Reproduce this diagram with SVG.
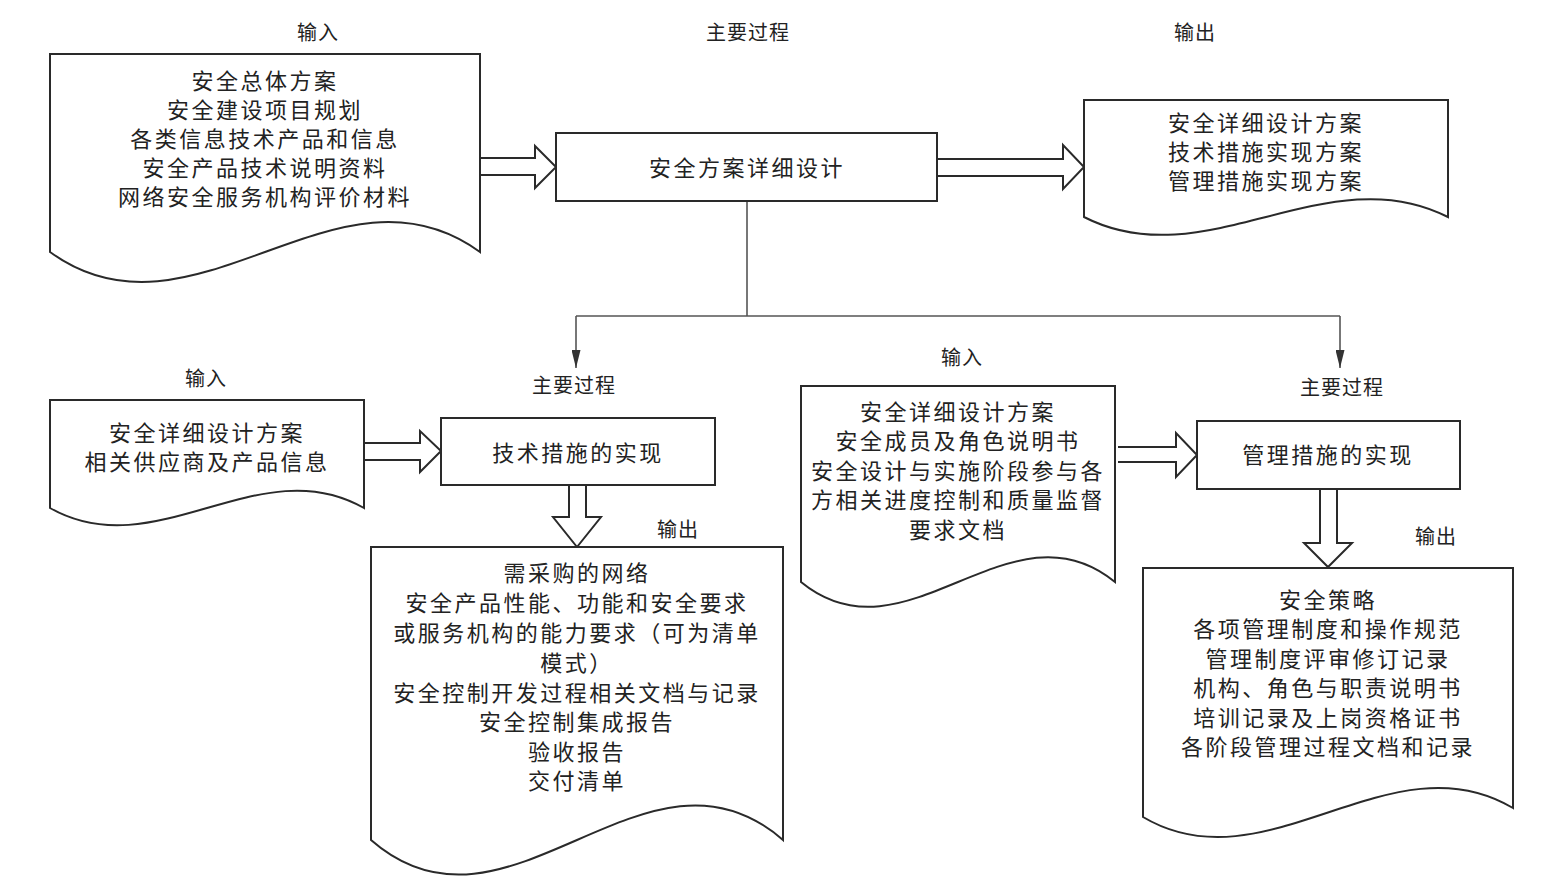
<svg xmlns="http://www.w3.org/2000/svg" width="1544" height="882" viewBox="0 0 1544 882">
<style>
.shape{fill:#fff;stroke:#2a2a2a;stroke-width:2;stroke-linejoin:miter}
.harrow{fill:#fff;stroke:#2a2a2a;stroke-width:2;stroke-linejoin:miter}
.conn{fill:none;stroke:#555;stroke-width:1.6}
.t{font-family:"Liberation Sans","Noto Sans CJK SC",sans-serif;font-size:22px;fill:#222;text-anchor:middle;dominant-baseline:central;letter-spacing:2.5px}
.lbl{font-family:"Liberation Sans","Noto Sans CJK SC",sans-serif;font-size:20px;fill:#222;text-anchor:middle;dominant-baseline:central;letter-spacing:1px}
</style>
<defs>
<marker id="ah" viewBox="0 0 20 10" refX="20" refY="5" markerWidth="18" markerHeight="9" markerUnits="userSpaceOnUse" orient="auto">
<path d="M0,0 L20,5 L0,10 Z" fill="#333"/>
</marker>
</defs>
<rect width="1544" height="882" fill="#fff"/>

<g id="labels">
<text class="lbl" x="318" y="33">输入</text>
<text class="lbl" x="748" y="33">主要过程</text>
<text class="lbl" x="1195" y="33">输出</text>
<text class="lbl" x="206" y="379">输入</text>
<text class="lbl" x="574" y="386">主要过程</text>
<text class="lbl" x="678" y="530">输出</text>
<text class="lbl" x="962" y="358">输入</text>
<text class="lbl" x="1342" y="388">主要过程</text>
<text class="lbl" x="1436" y="537">输出</text>
</g>

<g id="connectors">
<path class="harrow" d="M480,158 H535 V146 L556,167 L535,188 V175 H480"/>
<path class="harrow" d="M937,159 H1063 V145 L1084,167 L1063,189 V176 H937"/>
<path class="harrow" d="M364,443 H420 V431 L441,451 L420,472 V460 H364"/>
<path class="harrow" d="M1118,447 H1176 V433 L1197,455 L1176,477 V462 H1118"/>
<path class="harrow" d="M569,485 V517 H553 L577,547 L601,517 H586 V485"/>
<path class="harrow" d="M1320,489 V543 H1304 L1328,567 L1352,543 H1337 V489"/>
<path class="conn" d="M747,201 V316"/>
<path class="conn" d="M576,316 H1340"/>
<path class="conn" d="M576,316 V368" marker-end="url(#ah)"/>
<path class="conn" d="M1340,316 V368" marker-end="url(#ah)"/>
</g>

<g id="doc-input-1">
<path class="shape" d="M50,54 H480 V252 C337,148 193,356 50,252 Z"/>
<text class="t" x="265" y="81">安全总体方案</text>
<text class="t" x="265" y="110">安全建设项目规划</text>
<text class="t" x="265" y="139">各类信息技术产品和信息</text>
<text class="t" x="265" y="168">安全产品技术说明资料</text>
<text class="t" x="265" y="197">网络安全服务机构评价材料</text>
</g>

<g id="proc-main">
<rect class="shape" x="556" y="133" width="381" height="68"/>
<text class="t" x="747" y="168">安全方案详细设计</text>
</g>

<g id="doc-output-1">
<path class="shape" d="M1084,100 H1448 V217 C1327,155 1205,279 1084,217 Z"/>
<text class="t" x="1266" y="123">安全详细设计方案</text>
<text class="t" x="1266" y="152">技术措施实现方案</text>
<text class="t" x="1266" y="181">管理措施实现方案</text>
</g>

<g id="doc-input-2">
<path class="shape" d="M50,400 H364 V508 C259,448 155,568 50,508 Z"/>
<text class="t" x="207" y="433">安全详细设计方案</text>
<text class="t" x="207" y="462">相关供应商及产品信息</text>
</g>

<g id="proc-tech">
<rect class="shape" x="441" y="418" width="274" height="67"/>
<text class="t" x="578" y="453">技术措施的实现</text>
</g>

<g id="doc-output-2">
<path class="shape" d="M371,547 H783 V840 C646,720 508,960 371,840 Z"/>
<text class="t" x="577" y="573">需采购的网络</text>
<text class="t" x="577" y="603">安全产品性能、功能和安全要求</text>
<text class="t" x="577" y="633">或服务机构的能力要求（可为清单</text>
<text class="t" x="577" y="663">模式）</text>
<text class="t" x="577" y="693">安全控制开发过程相关文档与记录</text>
<text class="t" x="577" y="722">安全控制集成报告</text>
<text class="t" x="577" y="752">验收报告</text>
<text class="t" x="577" y="781">交付清单</text>
</g>

<g id="doc-input-3">
<path class="shape" d="M801,386 H1115 V582 C1010,496 906,668 801,582 Z"/>
<text class="t" x="958" y="412">安全详细设计方案</text>
<text class="t" x="958" y="441">安全成员及角色说明书</text>
<text class="t" x="958" y="471">安全设计与实施阶段参与各</text>
<text class="t" x="958" y="500">方相关进度控制和质量监督</text>
<text class="t" x="958" y="530">要求文档</text>
</g>

<g id="proc-mgmt">
<rect class="shape" x="1197" y="421" width="263" height="68"/>
<text class="t" x="1328" y="455">管理措施的实现</text>
</g>

<g id="doc-output-3">
<path class="shape" d="M1143,568 H1513 V808 C1390,735 1266,890 1143,817 Z"/>
<text class="t" x="1328" y="600">安全策略</text>
<text class="t" x="1328" y="629">各项管理制度和操作规范</text>
<text class="t" x="1328" y="659">管理制度评审修订记录</text>
<text class="t" x="1328" y="688">机构、角色与职责说明书</text>
<text class="t" x="1328" y="718">培训记录及上岗资格证书</text>
<text class="t" x="1328" y="747">各阶段管理过程文档和记录</text>
</g>
</svg>
